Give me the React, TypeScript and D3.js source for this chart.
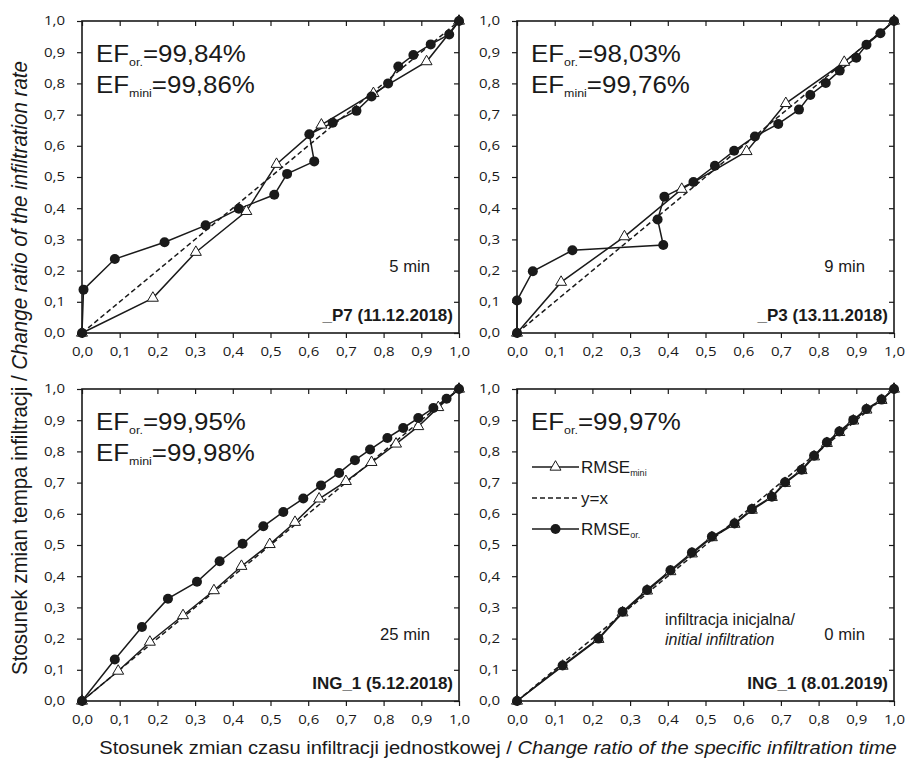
import * as d3 from 'd3'
import { useRef, useEffect } from 'react'

// tick values shared by all four panels
const ticks = [0, 0.1, 0.2, 0.3, 0.4, 0.5, 0.6, 0.7, 0.8, 0.9, 1.0]

// _P7 (11.12.2018)
const p7Mini = [[0, 0], [0.188, 0.112], [0.302, 0.259], [0.436, 0.39], [0.516, 0.541], [0.635, 0.667], [0.773, 0.768], [0.914, 0.87], [1, 1]]
const p7Or = [[0, 0], [0.004, 0.139], [0.087, 0.237], [0.219, 0.291], [0.328, 0.345], [0.416, 0.398], [0.51, 0.443], [0.544, 0.51], [0.616, 0.55], [0.603, 0.637], [0.665, 0.674], [0.728, 0.712], [0.768, 0.758], [0.812, 0.8], [0.839, 0.854], [0.879, 0.891], [0.925, 0.925], [0.974, 0.957], [1, 1]]

// _P3 (13.11.2018)
const p3Mini = [[0, 0], [0.117, 0.163], [0.285, 0.309], [0.437, 0.461], [0.609, 0.582], [0.713, 0.736], [0.868, 0.868], [1, 1]]
const p3Or = [[0, 0], [0, 0.104], [0.042, 0.198], [0.147, 0.265], [0.388, 0.282], [0.373, 0.364], [0.391, 0.437], [0.468, 0.484], [0.525, 0.536], [0.576, 0.584], [0.631, 0.63], [0.693, 0.67], [0.748, 0.716], [0.778, 0.763], [0.819, 0.801], [0.856, 0.841], [0.9, 0.882], [0.927, 0.924], [0.964, 0.961], [1, 1]]

// ING_1 (5.12.2018)
const ing5Mini = [[0, 0], [0.096, 0.096], [0.18, 0.189], [0.268, 0.274], [0.35, 0.354], [0.423, 0.432], [0.498, 0.502], [0.565, 0.573], [0.629, 0.648], [0.7, 0.704], [0.768, 0.765], [0.833, 0.824], [0.892, 0.88], [0.945, 0.941], [1, 1]]
const ing5Or = [[0, 0], [0.087, 0.133], [0.159, 0.237], [0.228, 0.328], [0.305, 0.382], [0.365, 0.448], [0.426, 0.504], [0.481, 0.56], [0.534, 0.606], [0.587, 0.649], [0.634, 0.691], [0.682, 0.731], [0.724, 0.772], [0.764, 0.806], [0.81, 0.843], [0.852, 0.875], [0.892, 0.907], [0.932, 0.939], [0.967, 0.969], [1, 1]]

// ING_1 (8.01.2019)
const ing8Mini = [[0, 0], [0.121, 0.112], [0.216, 0.198], [0.28, 0.283], [0.345, 0.353], [0.407, 0.415], [0.464, 0.472], [0.517, 0.524], [0.577, 0.567], [0.623, 0.612], [0.676, 0.653], [0.711, 0.698], [0.755, 0.739], [0.788, 0.783], [0.822, 0.826], [0.855, 0.861], [0.892, 0.898], [0.927, 0.933], [0.967, 0.964], [1, 1]]
const ing8Or = [[0, 0], [0.121, 0.114], [0.216, 0.2], [0.28, 0.286], [0.345, 0.356], [0.407, 0.419], [0.464, 0.476], [0.517, 0.527], [0.577, 0.569], [0.623, 0.615], [0.676, 0.655], [0.711, 0.701], [0.755, 0.741], [0.788, 0.786], [0.822, 0.829], [0.855, 0.864], [0.892, 0.901], [0.927, 0.936], [0.967, 0.966], [1, 1]]

const panels = [
  { mini: p7Mini, or: p7Or, ef: ['99,84%', '99,86%'], time: '5 min', label: '_P7 (11.12.2018)' },
  { mini: p3Mini, or: p3Or, ef: ['98,03%', '99,76%'], time: '9 min', label: '_P3 (13.11.2018)' },
  { mini: ing5Mini, or: ing5Or, ef: ['99,95%', '99,98%'], time: '25 min', label: 'ING_1 (5.12.2018)' },
  { mini: ing8Mini, or: ing8Or, ef: ['99,97%'], time: '0 min', label: 'ING_1 (8.01.2019)', legend: true }
]

const ink = '#1a1a1a'
const tickFont = "'Open Sans', sans-serif"
const arial = "'Liberation Sans', Arial, sans-serif"

// the original figure is slightly stretched horizontally, so text gets a small x-scale
const stretch = (sel, sx, x) => sel.attr('x', x / sx).attr('transform', 'scale(' + sx + ',1)')

const App = () => {
  const chart = useRef(null)

  useEffect(() => {
    drawChart()
  }, [])

  const drawChart = () => {
    const svg = d3.select(chart.current)
    svg.selectAll('*').remove()

    const w = 377
    const h = 312
    const lefts = [82, 517]
    const tops = [21, 389]
    const fmt = (v) => d3.format('.1f')(v).replace('.', ',')

    panels.forEach((p, i) => {
      const ox = lefts[i % 2]
      const oy = tops[Math.floor(i / 2)]
      const x = d3.scaleLinear().domain([0, 1]).range([0, w])
      const y = d3.scaleLinear().domain([0, 1]).range([h, 0])

      const g = svg.append('g').attr('transform', 'translate(' + ox + ',' + oy + ')')

      // axes: outside ticks bottom/left, inside ticks top/right
      const bottom = g.append('g')
        .attr('transform', 'translate(0,' + h + ')')
        .call(d3.axisBottom(x).tickValues(ticks).tickFormat(fmt).tickSize(5).tickPadding(9))
      const left = g.append('g')
        .call(d3.axisLeft(y).tickValues(ticks).tickFormat(fmt).tickSize(5).tickPadding(17))
      g.append('g')
        .call(d3.axisTop(x).tickValues(ticks).tickFormat('').tickSize(-5))
      g.append('g')
        .attr('transform', 'translate(' + w + ',0)')
        .call(d3.axisRight(y).tickValues(ticks).tickFormat('').tickSize(-5))

      ;[bottom, left].forEach((a) => {
        a.selectAll('text').attr('font-family', tickFont).attr('font-size', 12).attr('fill', ink)
      })
      stretch(bottom.selectAll('text'), 1.25, 0)
      stretch(left.selectAll('text'), 1.25, -17)
      g.selectAll('.domain').remove()
      g.selectAll('.tick line').attr('stroke', ink).attr('stroke-width', 1.2)

      g.append('rect')
        .attr('width', w)
        .attr('height', h)
        .attr('fill', 'none')
        .attr('stroke', ink)
        .attr('stroke-width', 1.6)

      const line = d3.line().x((d) => x(d[0])).y((d) => y(d[1]))

      // RMSE mini
      g.append('path')
        .datum(p.mini)
        .attr('d', line)
        .attr('fill', 'none')
        .attr('stroke', ink)
        .attr('stroke-width', 1.5)

      // y = x
      g.append('path')
        .datum([[0, 0], [1, 1]])
        .attr('d', line)
        .attr('fill', 'none')
        .attr('stroke', ink)
        .attr('stroke-width', 1.5)
        .attr('stroke-dasharray', '5,3')

      g.append('path')
        .datum(p.or)
        .attr('d', line)
        .attr('fill', 'none')
        .attr('stroke', ink)
        .attr('stroke-width', 1.5)

      const tri = d3.symbol().type(d3.symbolTriangle).size(52)
      g.selectAll('.tri')
        .data(p.mini)
        .enter()
        .append('path')
        .attr('d', tri)
        .attr('transform', (d) => 'translate(' + x(d[0]) + ',' + y(d[1]) + ')')
        .attr('fill', 'white')
        .attr('stroke', ink)
        .attr('stroke-width', 1)

      g.selectAll('.dot')
        .data(p.or)
        .enter()
        .append('circle')
        .attr('cx', (d) => x(d[0]))
        .attr('cy', (d) => y(d[1]))
        .attr('r', 5)
        .attr('fill', ink)

      // EF annotation
      const subs = ['or.', 'mini']
      p.ef.forEach((v, k) => {
        const t = g.append('text')
          .attr('y', 41 + k * 31)
          .attr('font-family', arial)
          .attr('font-size', 24)
          .attr('fill', ink)
        stretch(t, 1.08, 14)
        t.append('tspan').text('EF')
        t.append('tspan').attr('font-size', 11.5).attr('dy', 4).text(subs[k])
        t.append('tspan').attr('dy', -4).text('=' + v)
      })

      const tt = g.append('text')
        .attr('y', 251)
        .attr('text-anchor', 'end')
        .attr('font-family', arial)
        .attr('font-size', 16)
        .attr('fill', ink)
        .text(p.time)
      stretch(tt, 1.04, w - 29)

      g.append('text')
        .attr('x', w - 6)
        .attr('y', 300)
        .attr('text-anchor', 'end')
        .attr('font-family', arial)
        .attr('font-size', 17)
        .attr('font-weight', 'bold')
        .attr('fill', ink)
        .text(p.label)

      if (p.legend) {
        g.append('text')
          .attr('x', 148)
          .attr('y', 236)
          .attr('font-family', arial)
          .attr('font-size', 16)
          .attr('fill', ink)
          .text('infiltracja inicjalna/')
        g.append('text')
          .attr('x', 148)
          .attr('y', 256)
          .attr('font-family', arial)
          .attr('font-size', 16)
          .attr('font-style', 'italic')
          .attr('fill', ink)
          .text('initial infiltration')

        const items = [
          { name: 'RMSE', sub: 'mini', mark: 'tri', dash: null },
          { name: 'y=x', sub: '', mark: null, dash: '5,3' },
          { name: 'RMSE', sub: 'or.', mark: 'dot', dash: null }
        ]
        items.forEach((it, k) => {
          const ly = 78 + k * 31
          g.append('line')
            .attr('x1', 15).attr('x2', 62)
            .attr('y1', ly).attr('y2', ly)
            .attr('stroke', ink)
            .attr('stroke-width', 1.5)
            .attr('stroke-dasharray', it.dash)
          if (it.mark === 'tri') {
            g.append('path').attr('d', tri)
              .attr('transform', 'translate(38.5,' + ly + ')')
              .attr('fill', 'white').attr('stroke', ink).attr('stroke-width', 1)
          }
          if (it.mark === 'dot') {
            g.append('circle').attr('cx', 38.5).attr('cy', ly).attr('r', 5).attr('fill', ink)
          }
          const t = g.append('text')
            .attr('x', 64)
            .attr('y', ly + 6)
            .attr('font-family', arial)
            .attr('font-size', 17)
            .attr('fill', ink)
          t.append('tspan').text(it.name)
          if (it.sub) t.append('tspan').attr('font-size', 9).attr('dy', 3).text(it.sub)
        })
      }
    })

    const xt = svg.append('text')
      .attr('y', 754)
      .attr('text-anchor', 'middle')
      .attr('font-family', arial)
      .attr('font-size', 19)
      .attr('fill', ink)
    stretch(xt, 1.06, 498)
    xt.append('tspan').text('Stosunek zmian czasu infiltracji jednostkowej / ')
    xt.append('tspan').attr('font-style', 'italic').text('Change ratio of the specific infiltration time')

    svg.append('text')
      .attr('transform', 'translate(27,368) scale(1.12,1) rotate(-90)')
      .attr('text-anchor', 'middle')
      .attr('font-family', arial)
      .attr('font-size', 20.5)
      .attr('fill', ink)
      .call((t) => {
        t.append('tspan').text('Stosunek zmian tempa infiltracji / ')
        t.append('tspan').attr('font-style', 'italic').text('Change ratio of the infiltration rate')
      })
  }

  return (
    <svg
      ref={chart}
      width={907}
      height={764}
      style={{ position: 'absolute', left: 0, top: 0, background: 'white' }}
    ></svg>
  )
}

export default App
